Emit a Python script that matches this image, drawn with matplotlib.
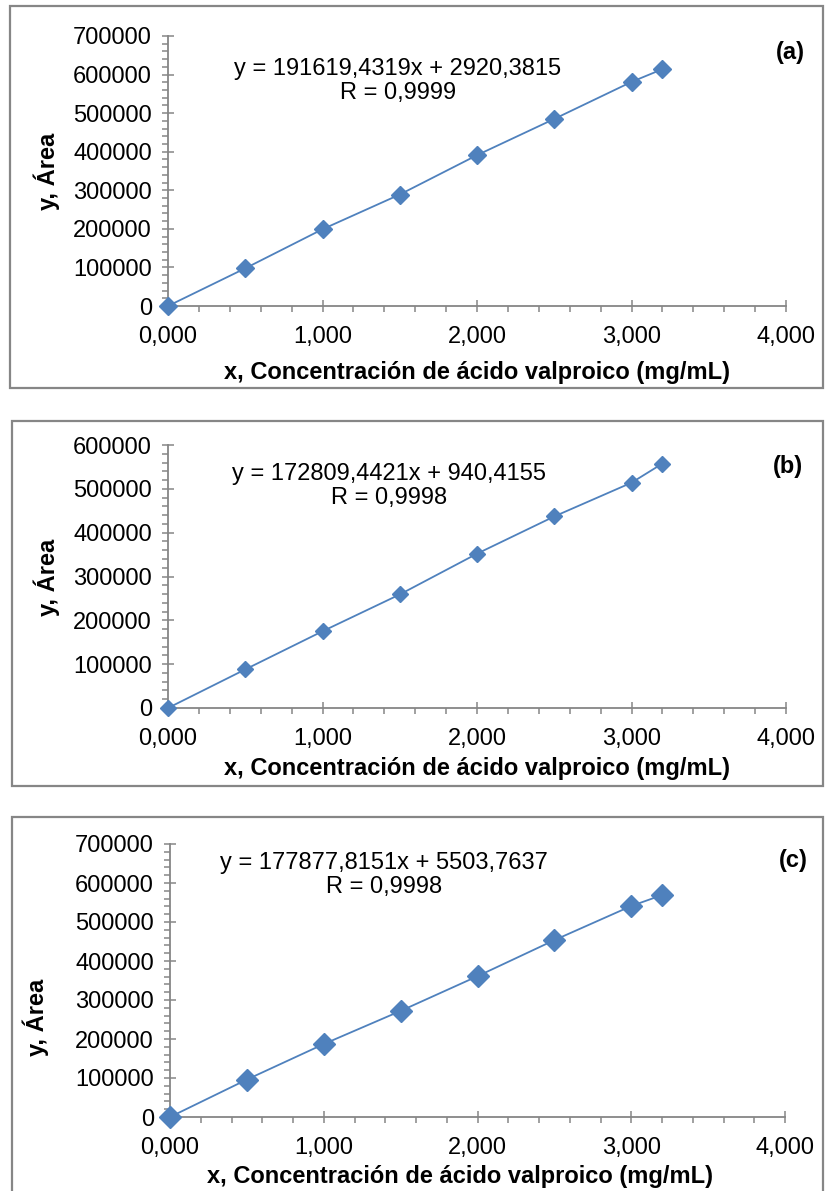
import matplotlib
matplotlib.use("Agg")
import matplotlib.pyplot as plt
from matplotlib.patches import Rectangle
from matplotlib.ticker import MultipleLocator, FuncFormatter

plt.rcParams['font.family'] = ['Liberation Sans', 'DejaVu Sans']

# Datos: concentración (mg/mL) y área
conc = [0.0, 0.5, 1.0, 1.5, 2.0, 2.5, 3.0, 3.2]
area_a = [0, 97700, 199000, 289000, 391000, 485000, 581000, 614000]
area_b = [0, 88000, 175000, 259000, 352000, 437000, 514000, 557600]
area_c = [0, 96000, 187000, 272000, 361000, 453500, 541000, 569000]

eq_a = "y = 191619,4319x + 2920,3815\nR = 0,9999"
eq_b = "y = 172809,4421x + 940,4155\nR = 0,9998"
eq_c = "y = 177877,8151x + 5503,7637\nR = 0,9998"

W, H = 825, 1191
fig = plt.figure(figsize=(W / 100, H / 100), dpi=100)

BLUE = "#4F81BD"
GRAY = "#868686"
FS = 17


def px_axes(left, right, top, bottom):
    return fig.add_axes([left / W, 1 - bottom / H, (right - left) / W, (bottom - top) / H])


def box(x0, y0, x1, y1):
    fig.patches.append(Rectangle((x0 / W, 1 - y1 / H), (x1 - x0) / W, (y1 - y0) / H,
                                 transform=fig.transFigure, fill=False,
                                 edgecolor=GRAY, linewidth=1.6))


def fig_text(x, y, s, **kw):
    fig.text(x / W, 1 - y / H, s, fontsize=FS, **kw)


panels = [
    # (area, ymax, axes px, box px, eq, eq pos, tag, tag pos, ylabel pos, xlabel pos, marker size)
    (area_a, 700000, (168, 786, 36, 306), (10, 6, 823, 388), eq_a, (398, 81), "(a)", (790, 53), (47, 171), (477, 372), 9),
    (area_b, 600000, (168, 786, 445, 708), (12, 421, 823, 786), eq_b, (389, 486), "(b)", (788, 467), (47, 577), (477, 768), 8),
    (area_c, 700000, (170, 785, 844, 1117), (12, 817, 823, 1200), eq_c, (384, 875), "(c)", (793, 861), (36, 1017), (460, 1176), 11),
]

for area, ymax, axpx, bpx, eq, eqpos, tag, tagpos, ylpos, xlpos, ms in panels:
    box(*bpx)
    ax = px_axes(*axpx)
    ax.plot(conc, area, color=BLUE, linewidth=1.3, marker="D", markersize=ms,
            markerfacecolor=BLUE, markeredgecolor=BLUE, clip_on=False, zorder=3)
    ax.set_xlim(0, 4)
    ax.set_ylim(0, ymax)
    ax.xaxis.set_major_locator(MultipleLocator(1))
    ax.xaxis.set_minor_locator(MultipleLocator(0.2))
    ax.yaxis.set_major_locator(MultipleLocator(100000))
    ax.yaxis.set_minor_locator(MultipleLocator(20000))
    ax.xaxis.set_major_formatter(FuncFormatter(lambda v, p: f"{v:.3f}".replace(".", ",")))
    ax.yaxis.set_major_formatter(FuncFormatter(lambda v, p: f"{int(round(v))}"))
    for side in ("top", "right"):
        ax.spines[side].set_visible(False)
    for side in ("left", "bottom"):
        ax.spines[side].set_color(GRAY)
        ax.spines[side].set_linewidth(1.3)
    ax.tick_params(which="major", direction="inout", length=9, width=1.1, color=GRAY,
                   labelsize=FS, labelcolor="black")
    ax.tick_params(which="minor", direction="out", length=4, width=1.1, color=GRAY)
    ax.tick_params(axis="y", which="major", pad=7)
    ax.tick_params(axis="x", which="major", pad=10)

    fig_text(eqpos[0], eqpos[1], eq, ha="center", va="center", linespacing=1.15)
    fig_text(tagpos[0], tagpos[1], tag, ha="center", va="center", fontweight="bold")
    fig_text(ylpos[0], ylpos[1], "y, Área", ha="center", va="center", rotation=90,
             fontweight="bold")
    fig_text(xlpos[0], xlpos[1], "x, Concentración de ácido valproico (mg/mL)",
             ha="center", va="center", fontweight="bold")

fig.savefig("out.png", dpi=100)
